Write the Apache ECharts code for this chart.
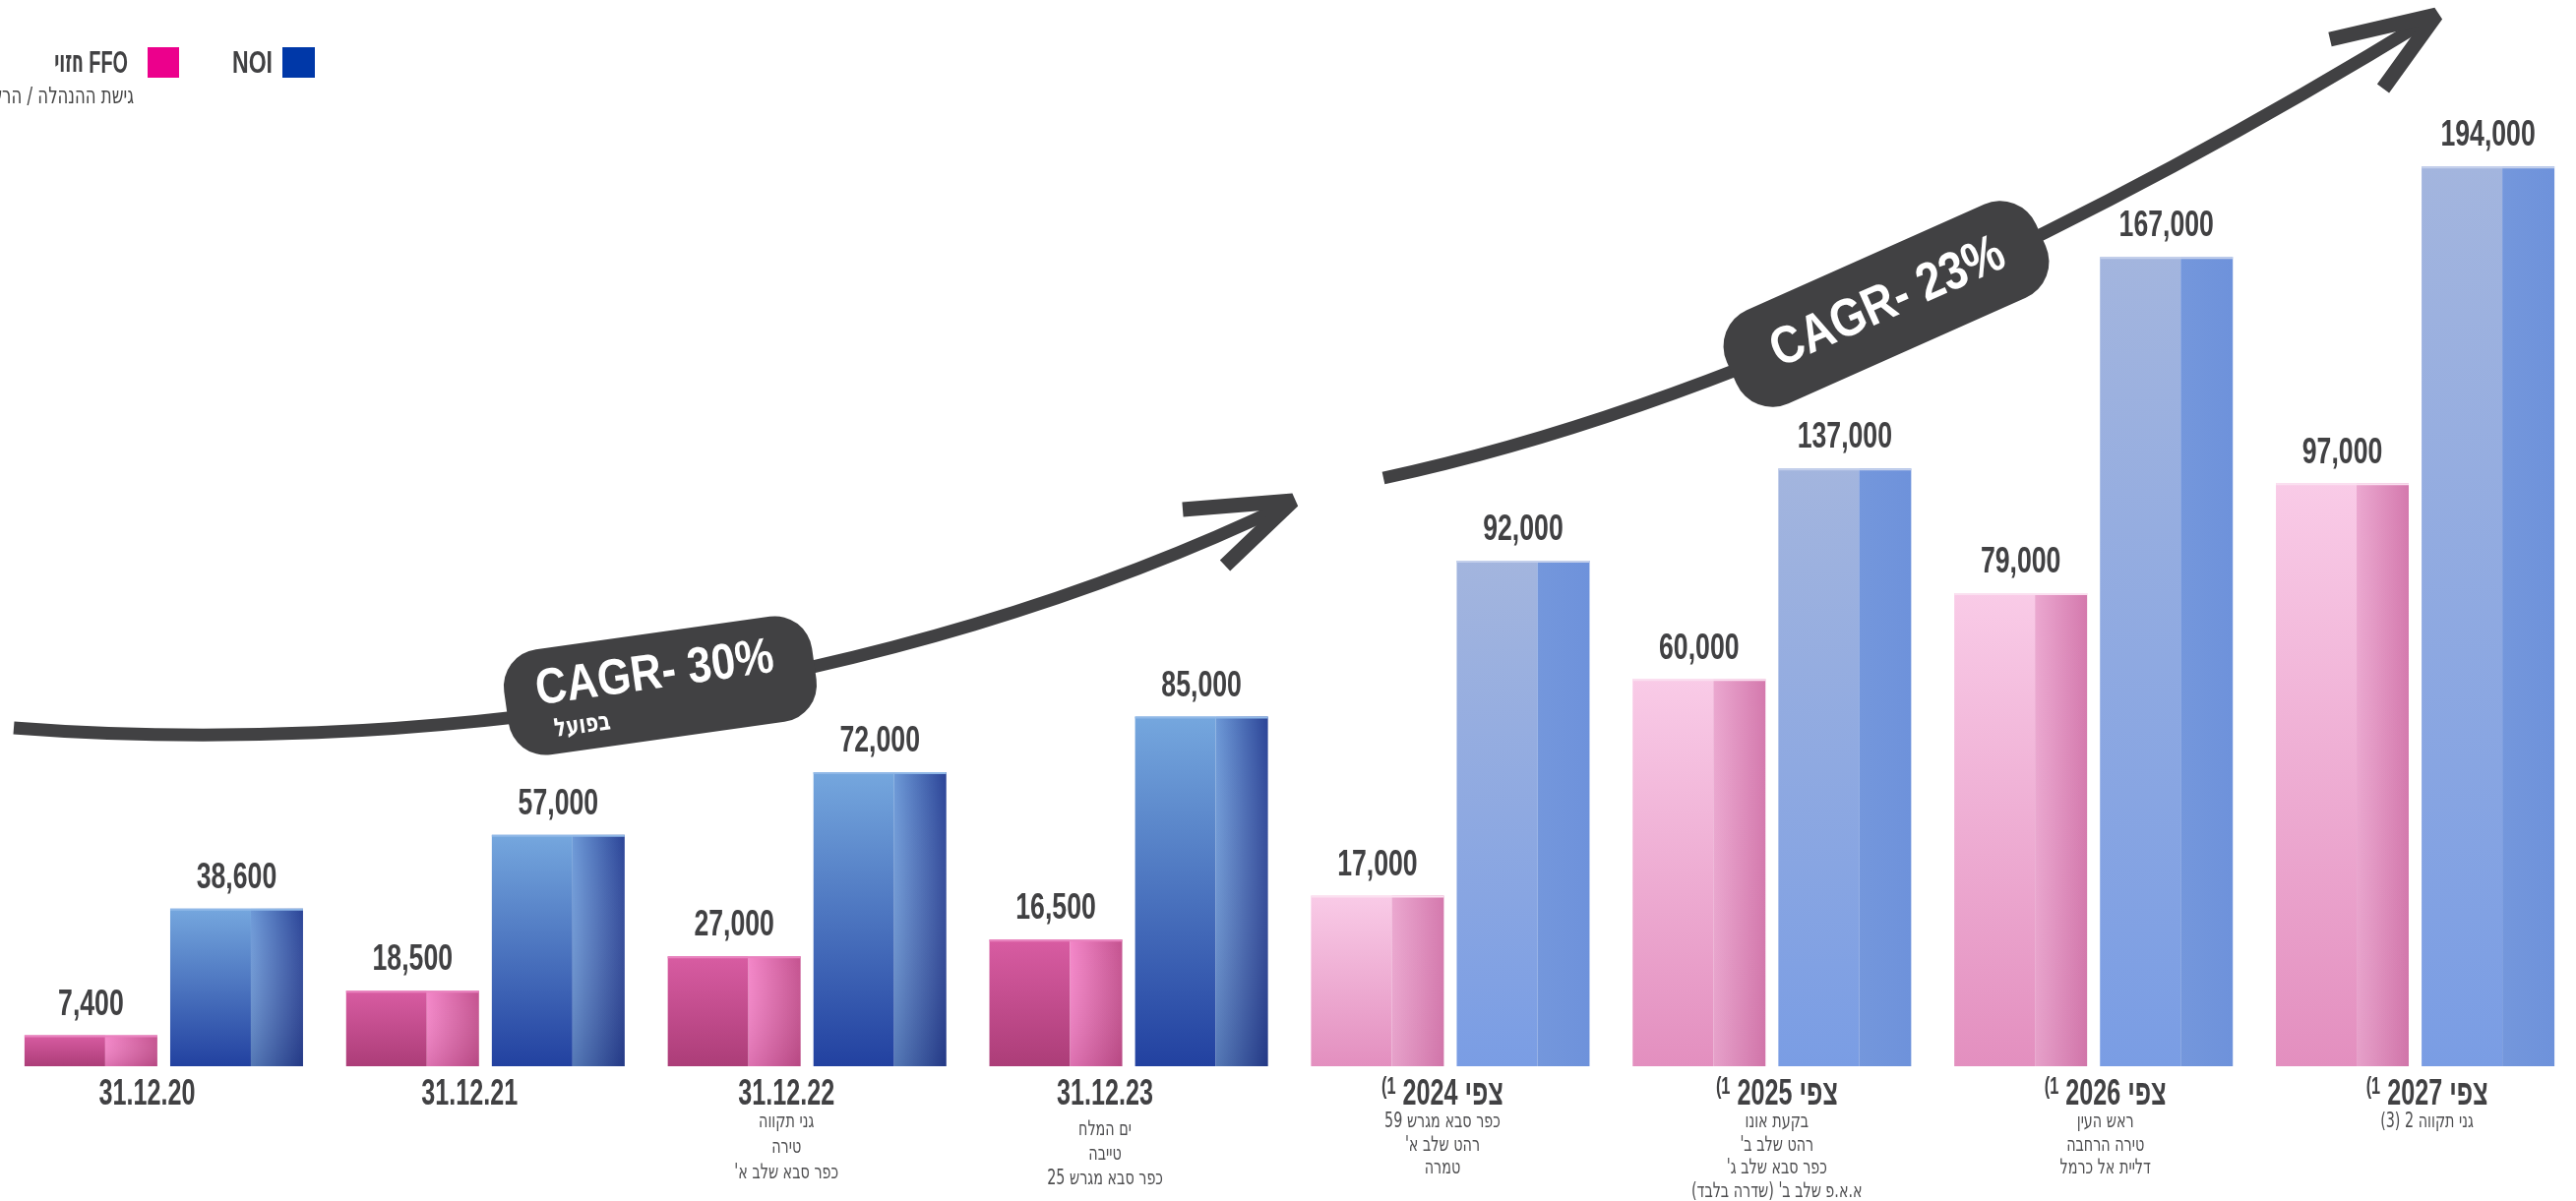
<!DOCTYPE html>
<html>
<head>
<meta charset="utf-8">
<script src="https://cdn.jsdelivr.net/npm/echarts@6/dist/echarts.min.js"></script>
<style>
html,body{margin:0;padding:0;background:#fff;}
#chart{width:2618px;height:1221px;}
</style>
</head>
<body>
<div id="chart"></div>
<script>
// ---------------- data ----------------
const categories = ['31.12.20', '31.12.21', '31.12.22', '31.12.23', '2024', '2025', '2026', '2027'];
const isForecast = [false, false, false, false, true, true, true, true];
const forecastWord = 'צפי';
const footnoteMark = '(1';
// printed values (labels)
const ffoValues = [7400, 18500, 27000, 16500, 17000, 60000, 79000, 97000];
const noiValues = [38600, 57000, 72000, 85000, 92000, 137000, 167000, 194000];
// bar heights as they appear in the picture (the original is not drawn to scale)
const ffoBarHeights = [6700, 16300, 23700, 27300, 36800, 83500, 102000, 125700];
const noiBarHeights = [34000, 49900, 63400, 75400, 109000, 128900, 174500, 194000];
const subLabels = [
  [],
  [],
  ['גני תקווה', 'טירה', "כפר סבא שלב א'"],
  ['ים המלח', 'טייבה', 'כפר סבא מגרש 25'],
  ['כפר סבא מגרש 59', "רהט שלב א'", 'טמרה'],
  ['בקעת אונו', "רהט שלב ב'", "כפר סבא שלב ג'", "א.א.פ שלב ב' (שדרה בלבד)"],
  ['ראש העין', 'טירה הרחבה', 'דליית אל כרמל'],
  ['גני תקווה 2 (3)']
];
const seriesNames = ['FFO חזוי', 'NOI'];
const legendWords = [['FFO', 'חזוי'], ['NOI']];
const legendNote = 'גישת ההנהלה / הרשות';
const cagrActual = 'CAGR- 30%';
const cagrActualNote = 'בפועל';
const cagrForecast = 'CAGR- 23%';

// ---------------- layout / style ----------------
const labelShift = [-17, -16, -21, -24, -8, 5, 12, 12];   // px nudges of category labels
const subShift = [0, 0, 0, 8, 0, 0, 0, 0];
const subGap = [26, 26, 26, 25, 23.5, 23.5, 23.5, 23.5];
const FB = '"Liberation Sans","DejaVu Sans Condensed",sans-serif';
const FS = '"DejaVu Sans Condensed","Liberation Sans",sans-serif';
const rtl = s => '\u202B' + s + '\u202C';
const fmt = v => v.toLocaleString('en-US');
const DARK = '#414143';
const PINK = '#ec008c', BLUE = '#0038a8';

const palettes = {
  ffo: {
    a: {lt: '#d85ca2', lb: '#ac3d78', rl: '#f386c8', rr: '#c4528f', shade: 'rgba(120,20,70,0.18)', edge: '#e983bf'},
    f: {lt: '#f9cbe7', lb: '#e38fbf', rl: '#eba8d0', rr: '#d479ad', shade: 'rgba(150,40,100,0.06)', edge: '#fbe0f0'}
  },
  noi: {
    a: {lt: '#75a7de', lb: '#2241a0', rl: '#6d99d7', rr: '#2b4497', shade: 'rgba(10,20,80,0.25)', edge: '#90b8e7'},
    f: {lt: '#a3b5de', lb: '#7a9de4', rl: '#7497dc', rr: '#6e92db', shade: 'rgba(0,0,0,0)', edge: '#c3cfeb'}
  }
};

function renderBar(kind, printed) {
  return function (params, api) {
    const i = params.dataIndex;
    const ci = api.value(0), h = api.value(1);
    const p = api.coord([ci, h]), b = api.coord([ci, 0]);
    const band = api.size([1, 0])[0];
    const w = band * 0.413, off = band * 0.2265;
    const cx = p[0] + (kind === 'ffo' ? -off : off);
    const x0 = cx - w / 2, y0 = p[1], H = b[1] - p[1];
    const wl = Math.round(w * 0.61);
    const pal = palettes[kind][isForecast[i] ? 'f' : 'a'];
    const LG = echarts.graphic.LinearGradient;
    return {
      type: 'group',
      children: [
        {type: 'rect', shape: {x: x0, y: y0, width: wl, height: H},
          style: {fill: new LG(0, 0, 0, 1, [{offset: 0, color: pal.lt}, {offset: 1, color: pal.lb}])}},
        {type: 'rect', shape: {x: x0 + wl, y: y0, width: w - wl, height: H},
          style: {fill: new LG(0, 0, 1, 0, [{offset: 0, color: pal.rl}, {offset: 1, color: pal.rr}])}},
        {type: 'rect', shape: {x: x0 + wl, y: y0, width: w - wl, height: H},
          style: {fill: new LG(0, 0, 0, 1, [{offset: 0, color: 'rgba(255,255,255,0)'}, {offset: 1, color: pal.shade}])}},
        {type: 'rect', shape: {x: x0, y: y0, width: w, height: 2}, style: {fill: pal.edge}},
        {type: 'text', x: cx, y: y0 - 31, scaleX: 0.72,
          style: {text: fmt(printed[i]), align: 'center', verticalAlign: 'middle',
            font: 'bold 37px ' + FB, fill: DARK}}
      ]
    };
  };
}

function renderCategory(params, api) {
  const i = params.dataIndex;
  const b = api.coord([api.value(0), 0]);
  const cx = b[0] + labelShift[i];
  const children = [];
  const title = isForecast[i]
    ? '{sup|' + footnoteMark + '}{t| ' + rtl(forecastWord + ' ' + categories[i]) + '}'
    : '{t|' + categories[i] + '}';
  children.push({type: 'text', x: cx, y: b[1] + 29, scaleX: 0.68,
    style: {text: title, align: 'center', verticalAlign: 'middle',
      rich: {
        t: {font: 'bold 37px ' + FB, fill: DARK, lineHeight: 40},
        sup: {font: 'bold 24px ' + FB, fill: DARK, lineHeight: 40, verticalAlign: 'top'}
      }}});
  subLabels[i].forEach((l, k) => {
    children.push({type: 'text', x: cx, y: b[1] + 57 + subShift[i] + k * subGap[i], scaleX: 0.76,
      style: {text: rtl(l), align: 'center', verticalAlign: 'middle', font: '21px ' + FS, fill: '#4e4e50'}});
  });
  return {type: 'group', children: children};
}

// ---------------- chart ----------------
const chart = echarts.init(document.getElementById('chart'), null, {renderer: 'canvas'});

const option = {
  animation: false,
  backgroundColor: '#ffffff',
  grid: {left: 3, top: 141, width: 2621, height: 943},
  legend: {show: false, data: seriesNames},
  xAxis: {
    type: 'category', data: categories,
    axisLine: {show: false}, axisTick: {show: false}, splitLine: {show: false},
    axisLabel: {show: false}
  },
  yAxis: {type: 'value', min: 0, max: 200000, show: false, splitLine: {show: false}},
  series: [
    {name: seriesNames[0], type: 'custom', clip: false, itemStyle: {color: PINK},
      renderItem: renderBar('ffo', ffoValues),
      data: ffoBarHeights.map((v, i) => [i, v])},
    {name: seriesNames[1], type: 'custom', clip: false, itemStyle: {color: BLUE},
      renderItem: renderBar('noi', noiValues),
      data: noiBarHeights.map((v, i) => [i, v])},
    {name: 'categoryLabels', type: 'custom', clip: false, silent: true,
      renderItem: renderCategory,
      data: categories.map((c, i) => [i, 0])}
  ],
  graphic: [
    // legend
    {type: 'rect', shape: {x: 150, y: 48, width: 32, height: 31}, style: {fill: PINK}},
    {type: 'text', x: 130, y: 65, scaleX: 0.62,
      style: {text: legendWords[0][0], align: 'right', verticalAlign: 'middle', font: 'bold 32px ' + FB, fill: DARK}},
    {type: 'text', x: 85, y: 65, scaleX: 0.62,
      style: {text: legendWords[0][1], align: 'right', verticalAlign: 'middle', font: 'bold 31px ' + FS, fill: DARK}},
    {type: 'rect', shape: {x: 287, y: 48, width: 33, height: 31}, style: {fill: BLUE}},
    {type: 'text', x: 277, y: 65, scaleX: 0.72,
      style: {text: legendWords[1][0], align: 'right', verticalAlign: 'middle', font: 'bold 32px ' + FB, fill: DARK}},
    {type: 'text', x: 136, y: 99, z: 10, scaleX: 0.8,
      style: {text: rtl(legendNote), align: 'right', verticalAlign: 'middle', font: '23px ' + FS, fill: '#444'}},
    // arrow 1 (actual)
    {type: 'bezierCurve', z: 20,
      shape: {x1: 14, y1: 740, cpx1: 400, cpy1: 770, cpx2: 900, cpy2: 710, x2: 1312, y2: 511},
      style: {stroke: DARK, lineWidth: 13, fill: null}},
    {type: 'polyline', z: 20,
      shape: {points: [[1202, 518], [1314, 509], [1245, 575]]},
      style: {stroke: DARK, lineWidth: 15, fill: null, lineJoin: 'bevel'}},
    {type: 'group', x: 671, y: 697, rotation: 8 * Math.PI / 180, z: 30,
      children: [
        {type: 'rect', shape: {x: -158, y: -54, width: 316, height: 108, r: 38}, style: {fill: DARK}, z: 30},
        {type: 'text', x: -4, y: -12, z: 31, scaleX: 0.86,
          style: {text: cagrActual, align: 'center', verticalAlign: 'middle', font: 'bold 51px ' + FB, fill: '#fff'}},
        {type: 'text', x: -84, y: 30, z: 31, scaleX: 0.85,
          style: {text: rtl(cagrActualNote), align: 'center', verticalAlign: 'middle', font: 'bold 26px ' + FS, fill: '#fff'}}
      ]},
    // arrow 2 (forecast)
    {type: 'bezierCurve', z: 20,
      shape: {x1: 1406, y1: 486, cpx1: 1760, cpy1: 410, cpx2: 2150, cpy2: 215, x2: 2474, y2: 16},
      style: {stroke: DARK, lineWidth: 13, fill: null}},
    {type: 'polyline', z: 20,
      shape: {points: [[2368, 40], [2476, 15], [2422, 90]]},
      style: {stroke: DARK, lineWidth: 15, fill: null, lineJoin: 'bevel'}},
    {type: 'group', x: 1917, y: 309, rotation: 24 * Math.PI / 180, z: 30,
      children: [
        {type: 'rect', shape: {x: -172, y: -52, width: 344, height: 104, r: 40}, style: {fill: DARK}, z: 30},
        {type: 'text', x: 2, y: 0, z: 31, scaleX: 0.85,
          style: {text: cagrForecast, align: 'center', verticalAlign: 'middle', font: 'bold 54px ' + FB, fill: '#fff'}}
      ]}
  ]
};
chart.setOption(option);
</script>
</body>
</html>
